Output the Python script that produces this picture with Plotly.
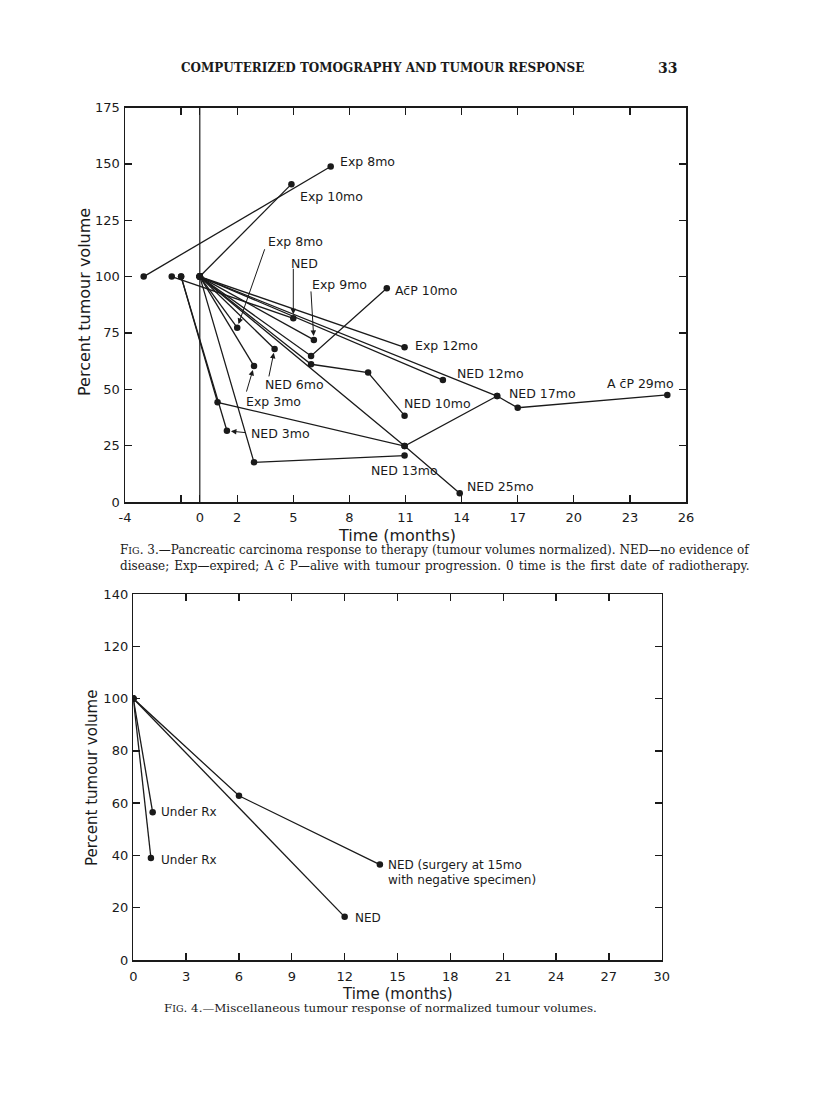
import plotly.graph_objects as go

# figure drawn inside the page's default 8px body margin
OFF = 8
FW, FH = 800, 1092

# ---------------- Fig. 3 data (months, percent tumour volume) ----------------
fig3_x = [
    [-3, 7.0],
    [0, 4.9],
    [0, 2.0],
    [-1.5, 5.0],
    [0, 6.1],
    [0, 5.95, 10.0],
    [0, 10.95],
    [0, 13.0],
    [0, 15.9, 17.0, 25.0],
    [-1.0, 0.95, 10.95, 15.9],
    [0, 5.95, 9.0, 10.95],
    [0, 4.0],
    [0, 2.9],
    [-1.0, 1.45],
    [0, 2.9, 10.95],
    [0, 10.95, 13.9],
]
fig3_y = [
    [100, 148.8],
    [100, 141.0],
    [100, 77.3],
    [100, 81.5],
    [100, 71.9],
    [100, 64.8, 94.8],
    [100, 68.6],
    [100, 54.1],
    [100, 47.0, 41.8, 47.5],
    [100, 44.2, 24.8, 47.0],
    [100, 61.1, 57.4, 38.3],
    [100, 67.9],
    [100, 60.3],
    [100, 31.6],
    [100, 17.6, 20.6],
    [100, 24.8, 3.9],
]
fig3_labels = [
    "Exp 8mo", "Exp 10mo", "Exp 8mo", "NED", "Exp 9mo", "Ac\u0304P 10mo",
    "Exp 12mo", "NED 12mo", "A c\u0304P 29mo", "NED 17mo", "NED 10mo",
    "NED 6mo", "Exp 3mo", "NED 3mo", "NED 13mo", "NED 25mo",
]
fig3_xticks = [-4, -1, 0, 2, 5, 8, 11, 14, 17, 20, 23, 26]
fig3_xticktext = ["-4", "", "0", "2", "5", "8", "11", "14", "17", "20", "23", "26"]
fig3_yticks = [0, 25, 50, 75, 100, 125, 150, 175]

# ---------------- Fig. 4 data ----------------
fig4_x = [[0, 1.1], [0, 1.0], [0, 6.0, 14.0], [0, 12.0]]
fig4_y = [[100, 56.5], [100, 39.0], [100, 62.8, 36.5], [100, 16.5]]
fig4_labels = ["Under Rx", "Under Rx", "NED (surgery at 15mo", "NED"]
fig4_label2 = [None, None, "with negative specimen)", None]
fig4_xticks = [0, 3, 6, 9, 12, 15, 18, 21, 24, 27, 30]
fig4_yticks = [0, 20, 40, 60, 80, 100, 120, 140]

# ---------------- styling / label placement (pixels) ----------------
fig3_label_pos = [
    ("left", 7, 5), ("left", 7, -12), ("left", 29, 86), ("center", 11, 55),
    ("left", -4, 55), ("left", 6, -2), ("left", 8, 2), ("left", 12, 7),
    ("right", 9, 11), ("left", 10, 3), ("left", -3, 12), ("left", -12, -36),
    ("left", -10, -35), ("left", 22, -3), ("left", -36, -15), ("left", 5, 7),
]
fig3_arrows = {2: (28, -80), 3: (0, -51), 4: (-3, -50), 11: (-6, 29), 12: (-8, 27), 13: (20, 2)}
fig4_label_pos = [("left", 6, 0), ("left", 8, -2), ("left", 6, 0), ("left", 8, -1)]

LET = "DejaVu Sans"
SER = "DejaVu Serif"
INK = "#1a1a1a"
HS = "\u200a"  # hair space, used to imitate justified caption text


def px(x):
    return (x - OFF) / FW


def py(y):
    return 1 - (y - OFF) / FH


fig = go.Figure()

for xs, ys in zip(fig3_x, fig3_y):
    fig.add_trace(go.Scatter(x=xs, y=ys, xaxis="x", yaxis="y", mode="lines+markers",
                             line=dict(color=INK, width=1.3),
                             marker=dict(color=INK, size=6.5), hoverinfo="skip",
                             showlegend=False))
for xs, ys in zip(fig4_x, fig4_y):
    fig.add_trace(go.Scatter(x=xs, y=ys, xaxis="x2", yaxis="y2", mode="lines+markers",
                             line=dict(color=INK, width=1.3),
                             marker=dict(color=INK, size=6.5), hoverinfo="skip",
                             showlegend=False))

ann = []
for i, (xs, ys, lab) in enumerate(zip(fig3_x, fig3_y, fig3_labels)):
    xa, dx, dy = fig3_label_pos[i]
    ann.append(dict(x=xs[-1], y=ys[-1], xref="x", yref="y", text=lab, showarrow=False,
                    xanchor=xa, yanchor="middle", xshift=dx, yshift=dy,
                    font=dict(family=LET, size=12.5, color=INK)))
    if i in fig3_arrows:
        ax, ay = fig3_arrows[i]
        ann.append(dict(x=xs[-1], y=ys[-1], xref="x", yref="y", text="", showarrow=True,
                        ax=ax, ay=ay, arrowhead=2, arrowsize=1.1, arrowwidth=1,
                        arrowcolor=INK, standoff=4))

for i, (xs, ys, lab) in enumerate(zip(fig4_x, fig4_y, fig4_labels)):
    xa, dx, dy = fig4_label_pos[i]
    ann.append(dict(x=xs[-1], y=ys[-1], xref="x2", yref="y2", text=lab, showarrow=False,
                    xanchor=xa, yanchor="middle", xshift=dx, yshift=dy,
                    font=dict(family=LET, size=12, color=INK)))
    if fig4_label2[i]:
        ann.append(dict(x=xs[-1], y=ys[-1], xref="x2", yref="y2", text=fig4_label2[i],
                        showarrow=False, xanchor=xa, yanchor="middle", xshift=dx,
                        yshift=dy - 15, font=dict(family=LET, size=12, color=INK)))


def paper_text(x, y, text, size, family, xanchor="center", angle=0):
    return dict(x=px(x), y=py(y), xref="paper", yref="paper", text=text,
                showarrow=False, xanchor=xanchor, yanchor="middle", textangle=angle,
                font=dict(family=family, size=size, color=INK))


caption3b = ("disease; Exp\u2014expired; A c\u0304 P\u2014alive with tumour progression. "
             "0 time is the first date of radiotherapy.").replace(" ", " " + HS)

ann += [
    paper_text(397, 535, "Time (months)", 16, LET),
    paper_text(85, 302, "Percent tumour volume", 16, LET, angle=-90),
    paper_text(397, 994, "Time (months)", 15, LET),
    paper_text(92, 778, "Percent tumour volume", 15, LET, angle=-90),
    paper_text(382, 68, "<b>COMPUTERIZED TOMOGRAPHY AND TUMOUR RESPONSE</b>", 12, SER),
    paper_text(667, 68, "<b>33</b>", 14, SER),
    paper_text(118, 550,
               "F<span style='font-size:9.5px'>IG</span>. 3.\u2014Pancreatic carcinoma response to therapy (tumour volumes normalized). NED\u2014no evidence of",
               12, SER, xanchor="left"),
    paper_text(118, 566, caption3b, 12, SER, xanchor="left"),
    paper_text(162, 1008,
               "F<span style='font-size:9.5px'>IG</span>. 4.\u2014Miscellaneous tumour response of normalized tumour volumes.",
               11.85, SER, xanchor="left"),
]

axis_common = dict(showgrid=False, zeroline=False, showline=True, linecolor=INK,
                   linewidth=1.5, mirror="allticks", ticks="inside", ticklen=7,
                   tickwidth=1.3, tickcolor=INK, automargin=False,
                   tickfont=dict(family=LET, size=13, color=INK))

fig.update_layout(
    template="none",
    width=FW, height=FH, margin=dict(l=0, r=0, t=0, b=0, autoexpand=False),
    paper_bgcolor="white", plot_bgcolor="white", showlegend=False,
    hovermode=False,
    xaxis=dict(domain=[px(125), px(686)], anchor="y", range=[-4, 26],
               tickvals=fig3_xticks, ticktext=fig3_xticktext, ticklabelstandoff=3,
               **axis_common),
    yaxis=dict(domain=[py(502), py(107.5)], anchor="x", range=[0, 175],
               tickvals=fig3_yticks, ticklabelstandoff=1, **axis_common),
    xaxis2=dict(domain=[px(133.3), px(661.7)], anchor="y2", range=[0, 30],
                tickvals=fig4_xticks, ticklabelstandoff=4, **axis_common),
    yaxis2=dict(domain=[py(960), py(594)], anchor="x2", range=[0, 140],
                tickvals=fig4_yticks, ticklabelstandoff=1, **axis_common),
    annotations=ann,
    shapes=[dict(type="line", xref="x", yref="y domain", x0=0, x1=0, y0=0, y1=1,
                 line=dict(color=INK, width=1.2))],
)

fig.write_html("out.html", config={"displayModeBar": False, "staticPlot": True})
